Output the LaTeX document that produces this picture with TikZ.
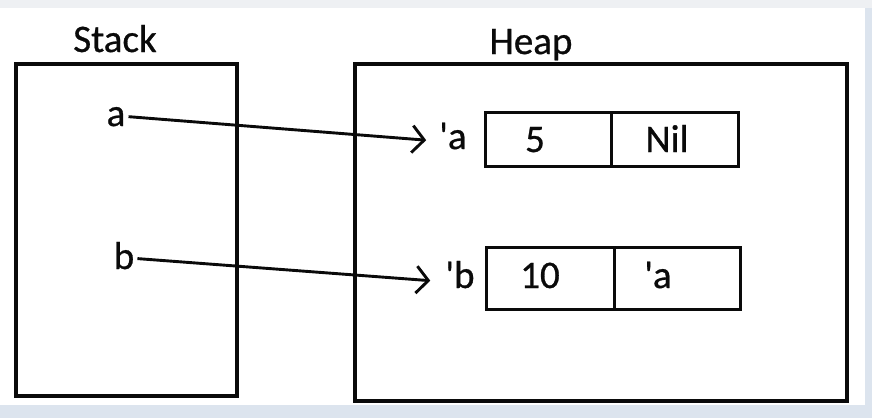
\documentclass[tikz,border=0pt]{standalone}
\usepackage{fontspec}
\setmainfont{Carlito}
\newfontfamily\paintfont{Carlito}[FakeBold=0.7]
\usepackage{tikz}
\usetikzlibrary{arrows.meta, positioning}
\definecolor{toolgray}{HTML}{EEF0F3}
\definecolor{framblue}{HTML}{DCE4EE}
\definecolor{inkblack}{HTML}{0A0A0A}

\begin{document}
\begin{tikzpicture}[x=1pt, y=-1pt,
  txt/.style={font=\paintfont\fontsize{39}{42}\selectfont, inner sep=3pt, anchor=base, text=inkblack},
  areabox/.style={draw=inkblack, line width=3.4pt, minimum width=#1},
  cellbox/.style={draw=inkblack, line width=3pt, minimum width=#1},
  pointer/.style={-{Straight Barb[length=12pt, width=27pt, line width=2.9pt]}, line width=2.9pt, inkblack}]
  \useasboundingbox (0,0) rectangle (872,418);
  % Paint window around the canvas
  \fill[white] (0,0) rectangle (872,418);
  \fill[toolgray] (0,0) rectangle (872,8);
  \fill[framblue] (865,8) rectangle (872,418);
  \fill[framblue] (0,405) rectangle (872,418);

  % Titles
  \node[txt] (stacktitle) at (115,52) {Stack};
  \node[txt] (heaptitle) at (531,54) {Heap};

  % Stack and heap areas
  \node[areabox=221pt, minimum height=332pt] (stackbox) at (126.5,230) {};
  \node[areabox=492pt, minimum height=337pt] (heapbox) at (601,232.5) {};

  % Variables on the stack
  \node[txt] (vara) at (116,126) {a};
  \node[txt] (varb) at (124,269) {b};

  % Objects on the heap
  \node[txt] (ptra) at (453,149) {\textquotesingle a};
  \node[txt] (ptrb) at (460,288) {\textquotesingle b};

  \node[cellbox=126pt, minimum height=54pt] (cellfive) at (548,139) {};
  \node[cellbox=127pt, minimum height=54pt] (cellnil) at (674.5,139) {};
  \node[cellbox=128pt, minimum height=62pt] (cellten) at (550,278) {};
  \node[cellbox=126pt, minimum height=62pt] (cellref) at (677,278) {};

  \node[txt] (valfive) at (535,152) {5};
  \node[txt] (valnil) at (667,152) {Nil};
  \node[txt] (valten) at (540,288) {10};
  \node[txt] (valref) at (658,288) {\textquotesingle a};

  % References from stack to heap
  \draw[pointer, shorten >=10pt] (vara.east) -- ([yshift=-5pt]ptra.west);
  \draw[pointer, shorten >=12pt] ([yshift=-3pt]varb.east) -- ([yshift=-7pt]ptrb.west);
\end{tikzpicture}
\end{document}
